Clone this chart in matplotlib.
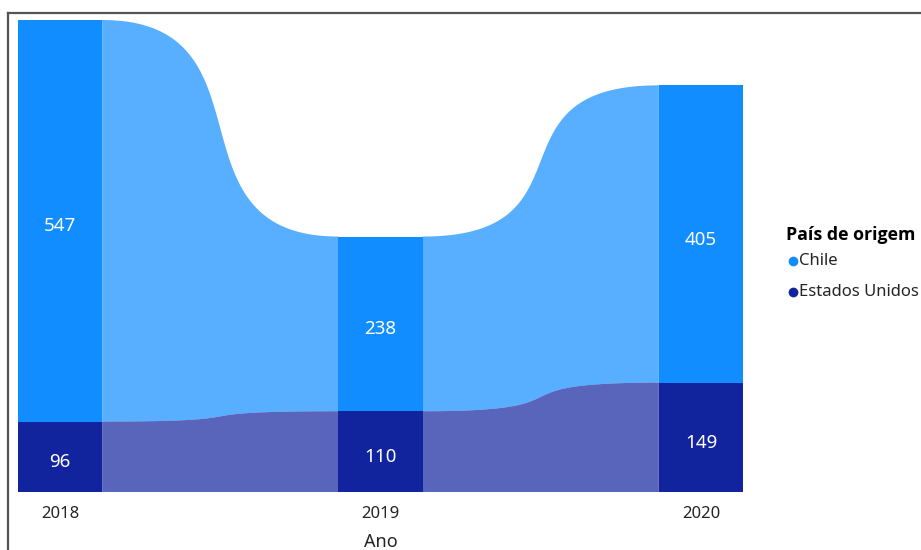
import numpy as np
import matplotlib
matplotlib.use('Agg')
import matplotlib.pyplot as plt
from matplotlib.lines import Line2D

# data
years = ['2018', '2019', '2020']
chile = [547, 238, 405]
eua = [96, 110, 149]
series_names = ['Chile', 'Estados Unidos']

bar_colors = {'Chile': '#118DFF', 'Estados Unidos': '#12239E'}
ribbon_alpha = 0.7
bar_w = 0.2625

plt.rcParams['font.family'] = ['Noto Sans', 'DejaVu Sans']


def ribbon_curve(xa, ya, xb, yb, k=0.75, n=80):
    """Cubic bezier between two points, flat at both ends."""
    t = np.linspace(0, 1, n)
    dx = xb - xa
    p = np.array([[xa, ya], [xa + k * dx, ya], [xb - k * dx, yb], [xb, yb]])
    b = np.stack([(1 - t) ** 3, 3 * (1 - t) ** 2 * t, 3 * (1 - t) * t ** 2, t ** 3], axis=1)
    pts = b @ p
    return pts[:, 0], pts[:, 1]


fig = plt.figure(figsize=(9.21, 5.5), dpi=100)
ax = fig.add_axes([18 / 921, 58 / 550, 725 / 921, 472 / 550])

x = np.arange(len(years))
bottoms = {'Estados Unidos': np.zeros(len(years)), 'Chile': np.array(eua, dtype=float)}
values = {'Estados Unidos': np.array(eua, dtype=float), 'Chile': np.array(chile, dtype=float)}

# ribbons between bars
for name in series_names:
    lo = bottoms[name]
    hi = lo + values[name]
    for i in range(len(years) - 1):
        xa, xb = x[i] + bar_w / 2, x[i + 1] - bar_w / 2
        tx, ty = ribbon_curve(xa, hi[i], xb, hi[i + 1])
        bx, by = ribbon_curve(xa, lo[i], xb, lo[i + 1])
        ax.fill(np.concatenate([tx, bx[::-1]]), np.concatenate([ty, by[::-1]]),
                color=bar_colors[name], alpha=ribbon_alpha, linewidth=0)

# bars and labels
for name in series_names:
    ax.bar(x, values[name], bottom=bottoms[name], width=bar_w,
           color=bar_colors[name], linewidth=0, zorder=3)
    for xi, b, v in zip(x, bottoms[name], values[name]):
        ax.annotate(f'{int(v)}', (xi, b + v / 2), xytext=(0, -4),
                    textcoords='offset points', ha='center', va='center',
                    color='white', fontsize=13.5, zorder=4)

ax.set_xlim(-bar_w / 2, x[-1] + bar_w / 2)
ax.set_ylim(0, max(np.array(chile) + np.array(eua)))
ax.set_xticks(x)
ax.set_xticklabels(years, fontsize=12, color='#252423')
ax.tick_params(axis='x', length=0, pad=10)
ax.set_yticks([])
for s in ax.spines.values():
    s.set_visible(False)
ax.set_xlabel('Ano', fontsize=13, color='#252423', labelpad=8)

# legend
fig.text(786 / 921, 1 - 235 / 550, 'País de origem', fontsize=12.8, fontweight='bold',
         family=['Open Sans', 'DejaVu Sans'], color='#000000', va='center', ha='left')
leg_y = [261, 292]
for name, yy in zip(series_names, leg_y):
    ax_dot = fig.add_artist(Line2D([793 / 921], [1 - yy / 550], marker='o', markersize=6,
                                   color=bar_colors[name], linestyle='none'))
    fig.text(799 / 921, 1 - yy / 550, name, fontsize=12, color='#252423',
             va='center', ha='left')

# outer frame (top and left edges)
fig.add_artist(Line2D([8 / 921, 1], [1 - 13 / 550, 1 - 13 / 550], color='#555555', linewidth=1.6))
fig.add_artist(Line2D([8 / 921, 8 / 921], [0, 1 - 13 / 550], color='#555555', linewidth=1.6))

plt.savefig('out.png', dpi=100)
